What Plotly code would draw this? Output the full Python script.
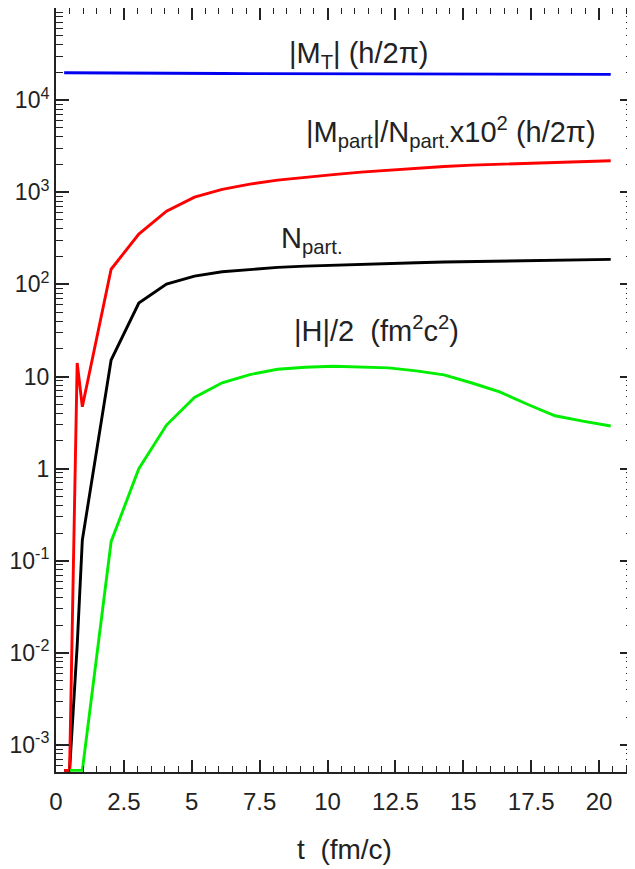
import plotly.graph_objects as go

# ---- data ----
t = [0.3, 0.5, 0.78, 0.97, 2.03, 3.05, 4.07, 5.10, 6.12, 7.14, 8.16, 9.18,
     10.21, 11.23, 12.25, 13.27, 14.29, 15.32, 16.34, 17.36, 18.38, 19.40, 20.43]

m_total = [19800, 19800, 19800, 19750, 19700, 19650, 19600, 19500, 19450, 19400,
           19350, 19300, 19300, 19250, 19250, 19200, 19200, 19150, 19150, 19100,
           19100, 19050, 19050]

m_part_per_n = [0.00053, 0.00053, 14, 4.7, 146, 352, 624, 885, 1074, 1225, 1355,
                1460, 1553, 1655, 1740, 1828, 1906, 1971, 2020, 2070, 2113, 2157, 2195]

n_part = [0.00053, 0.00053, 0.012, 0.168, 15.1, 62.7, 100.7, 123, 137, 146, 153,
          158, 162, 165, 169, 172, 175, 177, 179.5, 181.7, 183.6, 185.4, 186.7]

h_half = [None, 0.00053, 0.00053, 0.00053, 0.161, 1.0, 2.97, 5.93, 8.55, 10.5, 12.0,
          12.6, 12.9, 12.7, 12.4, 11.5, 10.4, 8.5, 6.8, 5.0, 3.75, 3.28, 2.90]

y_tick_vals = [1e-3, 1e-2, 1e-1, 1, 10, 1e2, 1e3, 1e4]
y_tick_text = ["10<sup>-3</sup>", "10<sup>-2</sup>", "10<sup>-1</sup>", "1", "10",
               "10<sup>2</sup>", "10<sup>3</sup>", "10<sup>4</sup>"]
x_tick_vals = [0, 2.5, 5, 7.5, 10, 12.5, 15, 17.5, 20]
x_tick_text = ["0", "2.5", "5", "7.5", "10", "12.5", "15", "17.5", "20"]

labels = [
    ("|M<sub>T</sub>| (h/2π)", 288, 66),
    ("|M<sub>part</sub>|/N<sub>part.</sub>x10<sup>2</sup> (h/2π)", 305, 145),
    ("N<sub>part.</sub>", 280, 251),
    ("|H|/2 &nbsp;(fm<sup>2</sup>c<sup>2</sup>)", 293, 340),
]

# ---- geometry (page body has an 8 px default margin) ----
OFF = 8
PLOT_L, PLOT_R, PLOT_T, PLOT_B = 56, 633, 8, 772   # plot area in window pixels
W, H = 635 - OFF, 869 - OFF
L = PLOT_L - OFF
T = PLOT_T - OFF
R = W - (PLOT_R - OFF)
B = H - (PLOT_B - OFF)
FONT = "Liberation Sans, Arial, Helvetica, sans-serif"
INK = "#222222"

fig = go.Figure()
fig.add_trace(go.Scatter(x=t, y=n_part, mode="lines", line=dict(color="black", width=2.9),
                         showlegend=False))
fig.add_trace(go.Scatter(x=t, y=m_part_per_n, mode="lines", line=dict(color="#ff0000", width=2.9),
                         showlegend=False))
fig.add_trace(go.Scatter(x=t, y=h_half, mode="lines", line=dict(color="#00ee00", width=2.9),
                         showlegend=False))
fig.add_trace(go.Scatter(x=t, y=m_total, mode="lines", line=dict(color="#0000f0", width=2.9),
                         showlegend=False))

minor_y = [k * 10.0 ** d for d in range(-4, 5) for k in range(2, 10)]

pw = PLOT_R - PLOT_L
ph = PLOT_B - PLOT_T
for text, px, py in labels:
    fig.add_annotation(text=text, xref="paper", yref="paper",
                       x=(px - PLOT_L) / pw, y=(PLOT_B - py) / ph,
                       xanchor="left", yanchor="bottom", showarrow=False,
                       borderpad=0, yshift=-8,
                       font=dict(family=FONT, size=29, color=INK))

fig.update_layout(
    width=W, height=H,
    margin=dict(l=L, r=R, t=T, b=B, pad=0, autoexpand=False),
    paper_bgcolor="white", plot_bgcolor="white",
    font=dict(family=FONT, color=INK),
    xaxis=dict(
        range=[0, 21.25], showgrid=False, zeroline=False, automargin=False,
        showline=True, linecolor=INK, linewidth=2, mirror="ticks",
        ticks="inside", ticklen=12, tickwidth=1.5, tickcolor=INK,
        tickvals=x_tick_vals, ticktext=x_tick_text,
        tickfont=dict(family=FONT, size=24, color=INK),
        ticklabelstandoff=7,
        minor=dict(dtick=0.5, tick0=0, ticks="inside", ticklen=6, tickwidth=1.2, tickcolor=INK),
        title=dict(text="t &nbsp;(fm/c)", font=dict(family=FONT, size=28, color=INK), standoff=26),
    ),
    yaxis=dict(
        type="log", range=[-3.293, 5.0], showgrid=False, zeroline=False, automargin=False,
        showline=True, linecolor=INK, linewidth=2, mirror="ticks",
        ticks="inside", ticklen=13, tickwidth=1.5, tickcolor=INK,
        tickvals=y_tick_vals, ticktext=y_tick_text,
        tickfont=dict(family=FONT, size=23, color=INK),
        ticklabelstandoff=0,
        minor=dict(tickvals=minor_y, ticks="inside", ticklen=7, tickwidth=1.2, tickcolor=INK),
    ),
)

fig.write_html("out.html")
